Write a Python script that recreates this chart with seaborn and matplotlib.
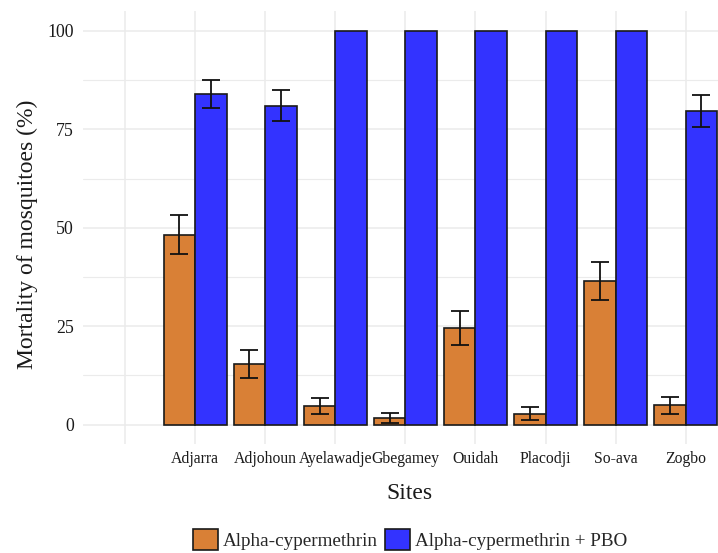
import numpy as np
import pandas as pd
import seaborn as sns
import matplotlib
matplotlib.use("Agg")
import matplotlib.pyplot as plt
from matplotlib.ticker import FixedLocator
from matplotlib.patches import Patch

# ---- data ----
sites = ["Adjarra", "Adjohoun", "Ayelawadje", "Gbegamey", "Ouidah", "Placodji", "So-ava", "Zogbo"]
treatments = ["Alpha-cypermethrin", "Alpha-cypermethrin + PBO"]
alpha_mort = [48.3, 15.5, 4.75, 1.6, 24.6, 2.8, 36.5, 4.9]
alpha_err = [5.05, 3.6, 2.1, 1.25, 4.3, 1.65, 4.8, 2.2]
pbo_mort = [84.0, 81.0, 100, 100, 100, 100, 100, 79.7]
pbo_err = [3.6, 3.9, 0, 0, 0, 0, 0, 4.0]
colors = ["#D98036", "#3333FF"]

df = pd.DataFrame({
    "Site": sites * 2,
    "Treatment": [treatments[0]] * len(sites) + [treatments[1]] * len(sites),
    "Mortality": alpha_mort + pbo_mort,
    "Err": alpha_err + pbo_err,
})
order = [""] + sites  # empty leading category as in the reference

sns.set_theme(style="white")
plt.rcParams["font.family"] = ["Liberation Serif", "DejaVu Serif"]

fig = plt.figure(figsize=(7.18, 5.53), dpi=100)
ax = fig.add_axes([83 / 718, 1 - 444.4 / 553, (727.7 - 83) / 718, (444.4 - 11.3) / 553])

sns.barplot(data=df, x="Site", y="Mortality", hue="Treatment", order=order,
            hue_order=treatments, palette=colors, width=0.9, errorbar=None,
            saturation=1, edgecolor="#1a1a1a", linewidth=1.2, ax=ax, zorder=2)

# error bars placed at each drawn bar's centre
err_lookup = {(r.Site, r.Treatment): r.Err for r in df.itertuples()}
for cont, tr in zip(ax.containers, treatments):
    for bar in cont:
        xc = bar.get_x() + bar.get_width() / 2
        h = bar.get_height()
        site = order[int(round(xc))]
        e = err_lookup.get((site, tr), 0)
        if e > 0:
            ax.errorbar(xc, h, yerr=e, fmt="none", ecolor="#111111",
                        elinewidth=1.3, capsize=6.3, capthick=1.3, zorder=3)

ax.set_xlim(-0.6, len(order) - 0.4)
ax.set_ylim(-5, 105)
ax.yaxis.set_major_locator(FixedLocator([0, 25, 50, 75, 100]))
ax.yaxis.set_minor_locator(FixedLocator([12.5, 37.5, 62.5, 87.5]))
ax.set_xticks(range(len(order)))
ax.set_xticklabels(order)

ax.set_axisbelow(True)
ax.grid(True, which="major", color="#EBEBEB", linewidth=1.1, zorder=0)
ax.grid(True, which="minor", axis="y", color="#EBEBEB", linewidth=0.8, zorder=0)
for s in ax.spines.values():
    s.set_visible(False)
ax.tick_params(axis="both", which="both", length=0)
ax.tick_params(axis="x", labelsize=11.3, pad=5, colors="#1a1a1a")
ax.tick_params(axis="y", labelsize=12.8, pad=6.5, colors="#1a1a1a")

ax.set_xlabel("Sites", fontsize=17, color="#1a1a1a")
ax.set_ylabel("Mortality of mosquitoes (%)", fontsize=17, color="#1a1a1a")
ax.xaxis.set_label_coords(0.506, -0.1145)
ax.xaxis.label.set_va("center")
ax.yaxis.set_label_coords(-0.087, 0.486)
ax.yaxis.label.set_va("center")

if ax.get_legend() is not None:
    ax.get_legend().remove()
handles = [Patch(facecolor=c, edgecolor="#1a1a1a", linewidth=1.2) for c in colors]
fig.legend(handles, treatments, loc="center", bbox_to_anchor=(410 / 718, 13.5 / 553),
           ncol=2, frameon=False, fontsize=13.8, handlelength=1.3, handleheight=1.3,
           handletextpad=0.27, columnspacing=0.38, borderpad=0)

fig.savefig("out.png", dpi=100)
